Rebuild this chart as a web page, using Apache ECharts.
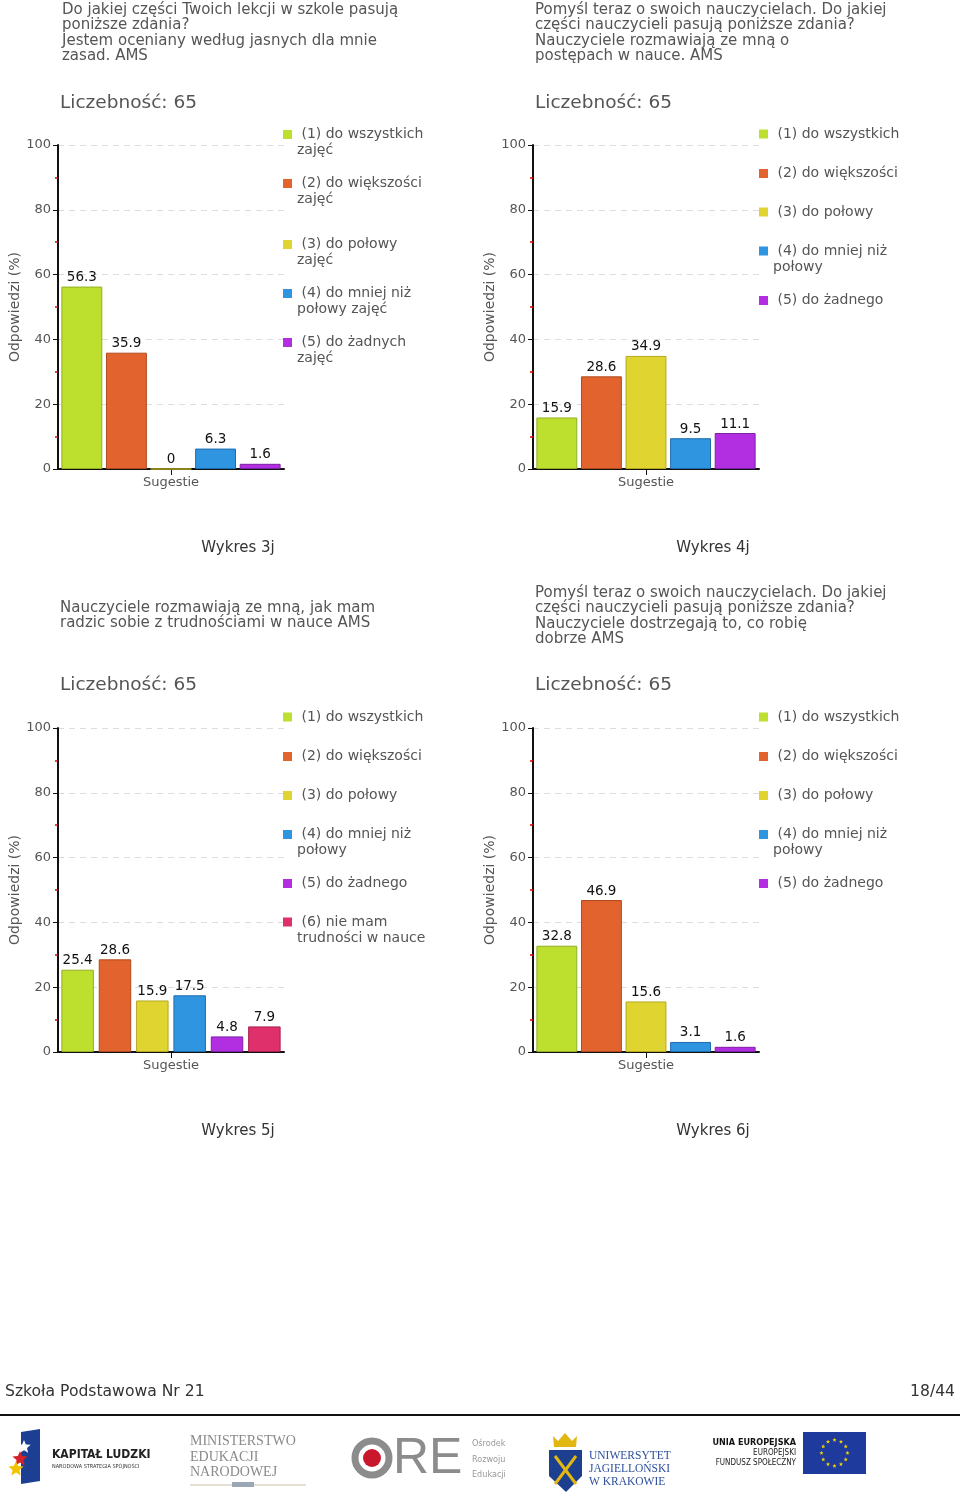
<!DOCTYPE html>
<html><head><meta charset="utf-8">
<script src="https://cdn.jsdelivr.net/npm/echarts@6/dist/echarts.min.js"></script>
<style>html,body{margin:0;padding:0;background:#fff}#c{width:960px;height:1503px}</style>
</head><body><div id="c"></div>
<script>
// ---------- DATA ----------
const categories = ['Sugestie'];
const yTickLabels = ['0', '20', '40', '60', '80', '100'];

const names3j = ['(1) do wszystkich\nzajęć', '(2) do większości\nzajęć', '(3) do połowy\nzajęć', '(4) do mniej niż\npołowy zajęć', '(5) do żadnych\nzajęć'];
const values3j = [56.3, 35.9, 0, 6.3, 1.6];

const names4j = ['(1) do wszystkich', '(2) do większości', '(3) do połowy', '(4) do mniej niż\npołowy', '(5) do żadnego'];
const values4j = [15.9, 28.6, 34.9, 9.5, 11.1];

const names5j = ['(1) do wszystkich', '(2) do większości', '(3) do połowy', '(4) do mniej niż\npołowy', '(5) do żadnego', '(6) nie mam\ntrudności w nauce'];
const values5j = [25.4, 28.6, 15.9, 17.5, 4.8, 7.9];

const names6j = ['(1) do wszystkich', '(2) do większości', '(3) do połowy', '(4) do mniej niż\npołowy', '(5) do żadnego'];
const values6j = [32.8, 46.9, 15.6, 3.1, 1.6];

const questions = [
  'Do jakiej części Twoich lekcji w szkole pasują\nponiższe zdania?\nJestem oceniany według jasnych dla mnie\nzasad. AMS',
  'Pomyśl teraz o swoich nauczycielach. Do jakiej\nczęści nauczycieli pasują poniższe zdania?\nNauczyciele rozmawiają ze mną o\npostępach w nauce. AMS',
  'Nauczyciele rozmawiają ze mną, jak mam\nradzic sobie z trudnościami w nauce AMS',
  'Pomyśl teraz o swoich nauczycielach. Do jakiej\nczęści nauczycieli pasują poniższe zdania?\nNauczyciele dostrzegają to, co robię\ndobrze AMS'
];
const countLabel = 'Liczebność: 65';
const chartCaptions = ['Wykres 3j', 'Wykres 4j', 'Wykres 5j', 'Wykres 6j'];
const yAxisName = 'Odpowiedzi (%)';
const footerLeft = 'Szkoła Podstawowa Nr 21';
const footerRight = '18/44';

// ---------- STYLE / LAYOUT ----------
const colors  = ['#bde02f', '#e2632d', '#e0d530', '#2f95e0', '#b12fe0', '#e0306b'];
const borders = ['#93ae22', '#b04a1e', '#b3a920', '#1d6cae', '#7d1fa6', '#a8204e'];
const FC = '"DejaVu Sans Condensed", "DejaVu Sans", sans-serif';
const F = '"DejaVu Sans", sans-serif';

const panels = [
  {names: names3j, values: values3j, left: 58,  top: 145, legLeft: 283, legC: [134.5, 183.5, 244.5, 293.5, 342.5], barGap: '9%',
   qx: 62, qy: 2, cx: 60, cy: 103, capX: 238, capY: 548},
  {names: names4j, values: values4j, left: 533, top: 145, legLeft: 759, legC: [134, 173.5, 212, 251, 300.5], barGap: '9%',
   qx: 535, qy: 2, cx: 535, cy: 103, capX: 713, capY: 548},
  {names: names5j, values: values5j, left: 58,  top: 728, legLeft: 283, legC: [717, 756.5, 795.5, 834.5, 883.5, 922], barGap: '15%',
   qx: 60, qy: 600, cx: 60, cy: 685, capX: 238, capY: 1131},
  {names: names6j, values: values6j, left: 533, top: 728, legLeft: 759, legC: [717, 756.5, 795.5, 834.5, 883.5], barGap: '9%',
   qx: 535, qy: 585, cx: 535, cy: 685, capX: 713, capY: 1131}
];

const grid = [], xAxis = [], yAxis = [], series = [], legend = [], graphic = [];

panels.forEach((p, gi) => {
  grid.push({left: p.left, top: p.top, width: 226, height: 324, outerBoundsMode: 'none'});
  xAxis.push({
    type: 'category', gridIndex: gi, data: categories,
    axisLine: {show: true, lineStyle: {color: '#111', width: 2}},
    axisTick: {show: true, alignWithLabel: true, length: 6, lineStyle: {color: '#111', width: 1}},
    axisLabel: {color: '#555', fontSize: 13, fontFamily: F, margin: 7},
    splitLine: {show: false}
  });
  yAxis.push({
    type: 'value', gridIndex: gi, min: 0, max: 100, interval: 20,
    name: yAxisName, nameLocation: 'middle', nameGap: 36,
    nameTextStyle: {color: '#555', fontSize: 14, fontFamily: F},
    axisLine: {show: true, lineStyle: {color: '#111', width: 2}},
    axisTick: {show: true, length: 5, lineStyle: {color: '#111', width: 1}},
    minorTick: {show: true, splitNumber: 2, length: 3, lineStyle: {color: '#e00000', width: 1.5}},
    axisLabel: {color: '#555', fontSize: 13, fontFamily: F, margin: 7,
      formatter: v => yTickLabels[Math.round(v / 20)]},
    splitLine: {show: true, lineStyle: {type: [6, 5], color: '#dcdcdc', width: 1}}
  });
  p.names.forEach((n, i) => {
    series.push({
      type: 'bar', name: n, xAxisIndex: gi, yAxisIndex: gi,
      data: [p.values[i]],
      barGap: p.barGap, barCategoryGap: '3%',
      itemStyle: {color: colors[i], borderColor: borders[i], borderWidth: 1},
      label: {show: true, position: 'top', distance: 2, color: '#111', fontSize: 13.5, fontFamily: F},
      emphasis: {disabled: true}
    });
    const two = n.indexOf('\n') >= 0;
    legend.push({
      data: [n], orient: 'vertical', left: p.legLeft,
      top: two ? p.legC[i] - 24 : p.legC[i] - 8,
      padding: 0, itemGap: 0, itemWidth: 9, itemHeight: 9, icon: 'rect',
      itemStyle: {borderWidth: 0},
      formatter: two ? '\n {name}' : ' {name}',
      textStyle: {color: '#555', fontSize: 14, fontFamily: F, lineHeight: 16}
    });
  });
  graphic.push(
    {type: 'text', x: p.qx, y: p.qy, style: {text: questions[gi], fill: '#555', fontSize: 15, fontFamily: F, lineHeight: 15.5, verticalAlign: 'top'}},
    {type: 'text', x: p.cx, y: p.cy, style: {text: countLabel, fill: '#555', fontSize: 18.5, fontFamily: F, verticalAlign: 'middle'}},
    {type: 'text', x: p.capX, y: p.capY, style: {text: chartCaptions[gi], fill: '#333', fontSize: 15, fontFamily: F, align: 'center', verticalAlign: 'middle'}}
  );
});

// footer
graphic.push(
  {type: 'text', x: 5, y: 1392, style: {text: footerLeft, fill: '#333', fontSize: 15.6, fontFamily: F, verticalAlign: 'middle'}},
  {type: 'text', x: 955, y: 1392, style: {text: footerRight, fill: '#333', fontSize: 15.6, fontFamily: F, align: 'right', verticalAlign: 'middle'}},
  {type: 'line', shape: {x1: 0, y1: 1415, x2: 960, y2: 1415}, style: {stroke: '#111', lineWidth: 2}}
);

// logos (decorative)
function star(cx, cy, r) {
  const pts = [];
  for (let k = 0; k < 10; k++) {
    const a = -Math.PI / 2 + k * Math.PI / 5;
    const rr = k % 2 ? r * 0.45 : r;
    pts.push([cx + rr * Math.cos(a), cy + rr * Math.sin(a)]);
  }
  return pts;
}
graphic.push(
  {type: 'polygon', shape: {points: [[21, 1432], [40, 1429], [40, 1481], [21, 1484]]}, style: {fill: '#1d3f93'}},
  {type: 'polygon', shape: {points: star(24, 1447, 7)}, style: {fill: '#fff'}},
  {type: 'polygon', shape: {points: star(20, 1459, 8)}, style: {fill: '#d6202a'}},
  {type: 'polygon', shape: {points: star(16, 1469, 8)}, style: {fill: '#f3c300'}},
  {type: 'text', x: 52, y: 1455, style: {text: 'KAPITAŁ LUDZKI', fill: '#222', fontSize: 12, fontWeight: 'bold', fontFamily: FC, verticalAlign: 'middle'}},
  {type: 'text', x: 52, y: 1467, style: {text: 'NARODOWA STRATEGIA SPÓJNOŚCI', fill: '#333', fontSize: 5.5, fontFamily: FC, verticalAlign: 'middle'}},

  {type: 'text', x: 190, y: 1434, style: {text: 'MINISTERSTWO\nEDUKACJI\nNARODOWEJ', fill: '#8a8a8a', fontSize: 14, fontFamily: '"Liberation Serif", serif', lineHeight: 15.5, verticalAlign: 'top'}},
  {type: 'line', shape: {x1: 190, y1: 1485, x2: 306, y2: 1485}, style: {stroke: '#ddd4c8', lineWidth: 1.5}},
  {type: 'rect', shape: {x: 232, y: 1482, width: 22, height: 5}, style: {fill: '#9aa7b5'}},

  {type: 'circle', shape: {cx: 372, cy: 1458, r: 17}, style: {fill: 'none', stroke: '#8c8c8c', lineWidth: 7}},
  {type: 'circle', shape: {cx: 372, cy: 1458, r: 9}, style: {fill: '#c9182c'}},
  {type: 'text', x: 393, y: 1459, style: {text: 'RE', fill: '#8c8c8c', fontSize: 50, fontFamily: '"Liberation Sans", sans-serif', verticalAlign: 'middle'}},
  {type: 'text', x: 472, y: 1436, style: {text: 'Ośrodek\nRozwoju\nEdukacji', fill: '#999', fontSize: 9, fontFamily: FC, lineHeight: 15.5, verticalAlign: 'top'}},

  {type: 'polygon', shape: {points: [[553, 1436], [558, 1441], [565, 1433], [572, 1441], [577, 1436], [576, 1447], [554, 1447]]}, style: {fill: '#e2b712'}},
  {type: 'polygon', shape: {points: [[549, 1450], [582, 1450], [582, 1476], [566, 1492], [549, 1476]]}, style: {fill: '#1d3f8f'}},
  {type: 'line', shape: {x1: 555, y1: 1456, x2: 576, y2: 1484}, style: {stroke: '#e2b712', lineWidth: 3}},
  {type: 'line', shape: {x1: 576, y1: 1456, x2: 555, y2: 1484}, style: {stroke: '#e2b712', lineWidth: 3}},
  {type: 'text', x: 589, y: 1449, style: {text: 'UNIWERSYTET\nJAGIELLOŃSKI\nW KRAKOWIE', fill: '#2d4f9c', fontSize: 11.5, fontFamily: '"Liberation Serif", serif', lineHeight: 13, verticalAlign: 'top'}},

  {type: 'text', x: 796, y: 1443, style: {text: 'UNIA EUROPEJSKA', fill: '#111', fontSize: 9, fontWeight: 'bold', fontFamily: FC, align: 'right', verticalAlign: 'middle'}},
  {type: 'text', x: 796, y: 1453, style: {text: 'EUROPEJSKI', fill: '#222', fontSize: 8, fontFamily: FC, align: 'right', verticalAlign: 'middle'}},
  {type: 'text', x: 796, y: 1463, style: {text: 'FUNDUSZ SPOŁECZNY', fill: '#222', fontSize: 8, fontFamily: FC, align: 'right', verticalAlign: 'middle'}},
  {type: 'rect', shape: {x: 803, y: 1432, width: 63, height: 42}, style: {fill: '#1d3a9c'}}
);
for (let k = 0; k < 12; k++) {
  const a = k * Math.PI / 6;
  graphic.push({type: 'polygon', shape: {points: star(834.5 + 13 * Math.cos(a), 1453 + 13 * Math.sin(a), 2.2)}, style: {fill: '#f5d000'}});
}

const chart = echarts.init(document.getElementById('c'));
chart.setOption({
  backgroundColor: '#fff',
  animation: false,
  grid, xAxis, yAxis, series, legend, graphic
});
</script>
</body></html>
